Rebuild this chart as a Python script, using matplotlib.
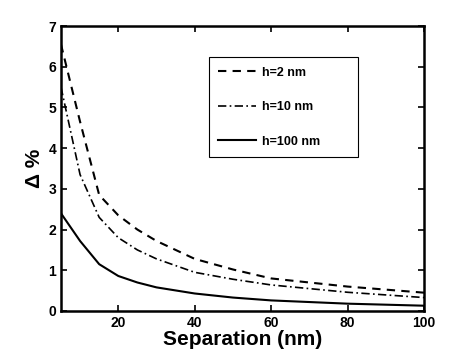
import numpy as np
import matplotlib
matplotlib.use("Agg")
import matplotlib.pyplot as plt

plt.rcParams['font.family'] = ['Liberation Sans', 'DejaVu Sans']

# separation (nm)
sep = [5, 10, 15, 20, 25, 30, 40, 50, 60, 80, 100]
# Delta % for each film thickness
d_h2 = [6.55, 4.65, 2.85, 2.35, 2.0, 1.72, 1.28, 1.02, 0.8, 0.6, 0.45]
d_h10 = [5.5, 3.35, 2.3, 1.8, 1.5, 1.28, 0.95, 0.78, 0.64, 0.46, 0.33]
d_h100 = [2.4, 1.72, 1.15, 0.86, 0.7, 0.58, 0.43, 0.33, 0.26, 0.18, 0.13]

fig = plt.figure(figsize=(4.69, 3.52), dpi=100)
ax = fig.add_axes([0.130, 0.1165, 0.774, 0.8095])

ax.plot(sep, d_h2, color='k', lw=1.5, ls=(0, (4, 3)), label='h=2 nm')
ax.plot(sep, d_h10, color='k', lw=1.2, ls=(0, (5, 2, 1, 2)), label='h=10 nm')
ax.plot(sep, d_h100, color='k', lw=1.5, ls='-', label='h=100 nm')

ax.set_xlim(5, 100)
ax.set_ylim(0, 7)
ax.set_xticks([20, 40, 60, 80, 100])
ax.set_yticks(range(8))
ax.tick_params(direction='in', top=True, right=True, length=4, width=1.2,
               labelsize=10)
for lab in ax.get_xticklabels() + ax.get_yticklabels():
    lab.set_fontweight('bold')
for sp in ax.spines.values():
    sp.set_linewidth(1.8)

ax.set_xlabel('Separation (nm)', fontsize=15, fontweight='bold', labelpad=0)
ax.set_ylabel('Δ %', fontsize=15, fontweight='bold', labelpad=3)

# legend box spans a fixed region like the matlab one
leg = ax.legend(loc='upper left', bbox_to_anchor=(0.408, 0.544, 0.410, 0.346),
                mode='expand', prop={'weight': 'bold', 'size': 9},
                fancybox=False, edgecolor='k', framealpha=1, handlelength=3.0,
                labelspacing=1.8, borderpad=0.75, handletextpad=0.5,
                borderaxespad=0)
leg.get_frame().set_linewidth(0.8)

fig.savefig('out.png', dpi=100)
